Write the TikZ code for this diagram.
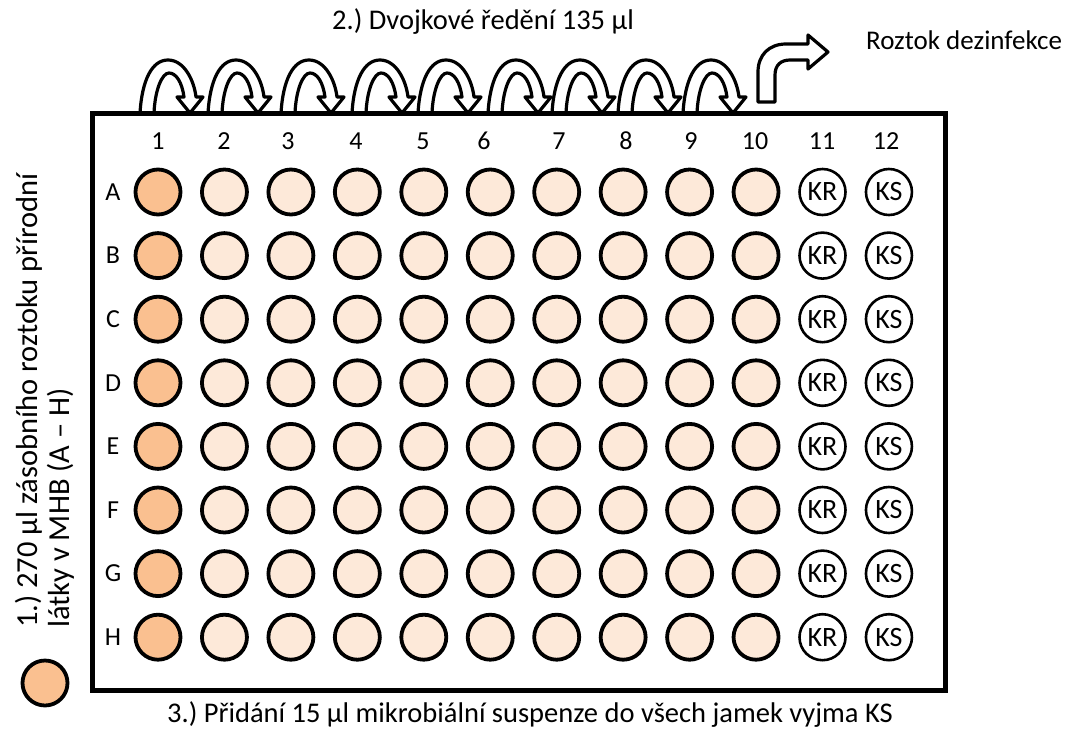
\documentclass[tikz,border=0pt]{standalone}
\usepackage{fontspec}
\setmainfont{Carlito}
\usetikzlibrary{positioning}
\definecolor{stockorange}{HTML}{FAC090}
\definecolor{dilpeach}{HTML}{FDE9D9}
\frenchspacing

\begin{document}
\begin{tikzpicture}[x=1pt, y=-1pt,
		txt/.style={font=\fontsize{28.5}{32}\selectfont, inner sep=0pt},
		idx/.style={font=\fontsize{26}{30}\selectfont, inner sep=0pt},
		well/.style={circle, draw, line width=3.8pt, fill=#1,
			minimum size=45pt, inner sep=0pt},
		ctrl/.style={circle, draw, line width=2.6pt, fill=white,
			minimum size=46pt, inner sep=0pt, font=\fontsize{28}{30}\selectfont},
		blockarr/.style={draw, line width=3.2pt, fill=white, line join=round}
		]
		\useasboundingbox (0,0) rectangle (1069,729);
		
		% Dilution arrows over columns 1 -- 10
		\foreach \x in {140,208,281,352,418,488,552,618,683}
		\draw[blockarr] (\x,113) .. controls (\x+2,80) and (\x+12,60) .. (\x+28,60)
		.. controls (\x+44,60) and (\x+54,80) .. (\x+56,97) -- (\x+63,97) -- (\x+50,113)
		-- (\x+37,97) -- (\x+44,97) .. controls (\x+42,82) and (\x+36,73) .. (\x+29,73)
		.. controls (\x+22,73) and (\x+15,90) .. (\x+14,113) -- cycle;
		
		% Bent arrow to the disinfection
		\draw[blockarr] (758,102) -- (758,72) .. controls (758,55) and (769,44) .. (786,44)
		-- (808,44) -- (808,35) -- (828,52) -- (808,69) -- (808,60) -- (790,60)
		.. controls (781,60) and (775,65) .. (775,75) -- (775,102) -- cycle;
		
		% Plate
		\draw[line width=5pt] (92,113) rectangle (945,690);
		
		% Column numbers
		\foreach \c/\cx in {1/158,2/224,3/288,4/356,5/423,6/484,7/559,8/626,9/691,10/755,11/822,12/886}
		\node[idx, anchor=base] (col-\c) at (\cx,149) {\c};
		
		% Rows of wells
		\foreach \r [count=\j] in {A,B,C,D,E,F,G,H} {
			\node[idx] (row-\r) at (113,{192+63.6*(\j-1)}) {\r};
			\node[well=stockorange] (well-\r-1) at (158,{192+63.6*(\j-1)}) {};
			\foreach \c in {2,...,10}
			\node[well=dilpeach] (well-\r-\c) at ({158+66.45*(\c-1)},{192+63.6*(\j-1)}) {};
			\node[ctrl] (well-\r-11) at ({158+66.45*10},{192+63.6*(\j-1)}) {KR};
			\node[ctrl] (well-\r-12) at ({158+66.45*11},{192+63.6*(\j-1)}) {KS};
		}
		
		% Texts
		\node[txt] (dilution) at (483,22) {2.) Dvojkové ředění 135 µl};
		\node[txt, anchor=west, font=\fontsize{27}{30}\selectfont] (disinfect) at (866,40) {Roztok dezinfekce};
		\node[txt, rotate=90, anchor=west, font=\fontsize{30.5}{34}\selectfont] (stock1) at (29,628) {1.) 270 µl zásobního roztoku přírodní};
		\node[txt, rotate=90, anchor=west, font=\fontsize{30.5}{34}\selectfont] (stock2) at (61,628) {látky v MHB (A – H)};
		\node[well=stockorange] (legend) at (45,683) {};
		\node[txt] (suspension) at (530,715) {3.) Přidání 15 µl mikrobiální suspenze do všech jamek vyjma KS};
	\end{tikzpicture}
\end{document}
